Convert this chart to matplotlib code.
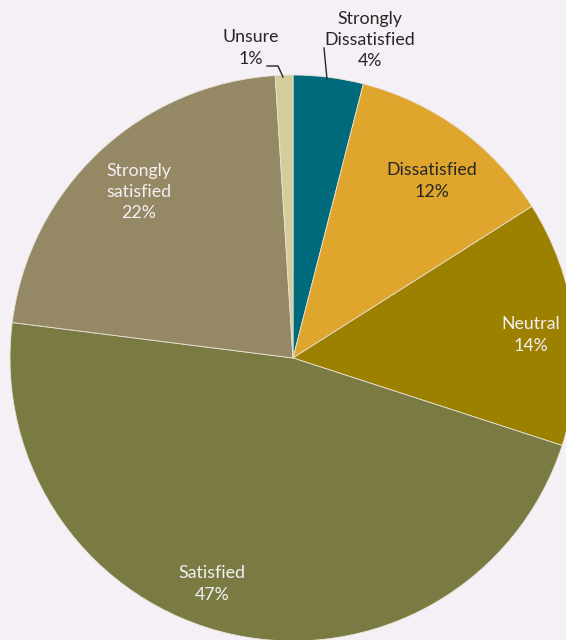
import matplotlib
matplotlib.use("Agg")
import matplotlib.pyplot as plt

categories = ["Strongly\nDissatisfied", "Dissatisfied", "Neutral", "Satisfied",
              "Strongly\nsatisfied", "Unsure"]
values = [4, 12, 14, 47, 22, 1]
colors = ["#006A7D", "#E0A52D", "#9C8000", "#7A7B42", "#958865", "#D3CE99"]
label_colors = ["#262626", "#262626", "#F4F0F4", "#F4F0F4", "#F4F0F4", "#262626"]

W, H = 566, 640
bg = "#F5F0F5"

fig = plt.figure(figsize=(W / 100, H / 100), dpi=100, facecolor=bg)
ax = fig.add_axes([0, 0, 1, 1])
ax.set_facecolor(bg)

cx, cy, r = 293, H - 358, 283
wedges, _ = ax.pie(values, colors=colors, startangle=90, counterclock=False,
                   center=(cx, cy), radius=r, frame=True,
                   wedgeprops=dict(edgecolor="#E8E2D8", linewidth=0.6))
ax.set_xlim(0, W)
ax.set_ylim(0, H)
ax.set_aspect("equal")
ax.axis("off")

# label anchor points (pixel space, y measured from top)
label_pos = [(370, 40), (432, 181), (531, 335), (212, 584), (139, 192), (251, 48)]
font = dict(family=["Lato", "DejaVu Sans"], fontsize=12.8)
for name, v, (lx, ly), c in zip(categories, values, label_pos, label_colors):
    ax.text(lx, H - ly, f"{name}\n{v}%", ha="center", va="center", color=c,
            linespacing=1.42, **font)

# leader lines for the two small slices
ax.plot([324, 327], [H - 48, H - 79], color="#262626", lw=1)
ax.plot([267, 278, 283], [H - 66, H - 66, H - 77], color="#262626", lw=1)

fig.savefig("out.png", dpi=100, facecolor=bg)
